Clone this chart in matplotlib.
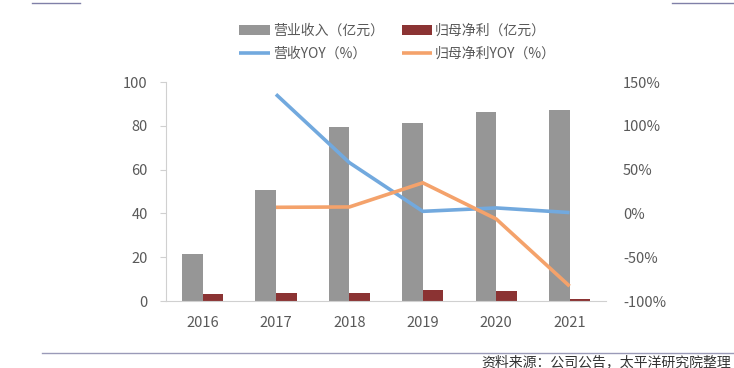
import matplotlib
matplotlib.use("Agg")
import matplotlib.pyplot as plt
from matplotlib.lines import Line2D
import numpy as np

plt.rcParams['font.family'] = ['Noto Sans CJK SC', 'DejaVu Sans']

years = ["2016", "2017", "2018", "2019", "2020", "2021"]
revenue = [21.5, 50.7, 79.3, 81.4, 86.4, 87.2]
net_profit = [3.2, 3.5, 3.5, 4.9, 4.4, 0.7]
rev_yoy_years = ["2017", "2018", "2019", "2020", "2021"]
rev_yoy = [136, 58, 2.4, 6.3, 1]
np_yoy = [7, 7.4, 35, -6.3, -83]

fig = plt.figure(figsize=(7.34, 3.68), dpi=100)
ax = fig.add_axes([0.226, 0.182, 0.6, 0.595])

x = np.arange(len(years))
w = 0.28
ax.bar(x - w / 2, revenue, w, color="#969696", label="营业收入（亿元）")
ax.bar(x + w / 2, net_profit, w, color="#8B3333", label="归母净利（亿元）")
ax.set_ylim(0, 100)
ax.set_xlim(-0.5, len(years) - 0.5)
ax.set_xticks(x)
ax.set_xticklabels(years)
ax.set_yticks(range(0, 101, 20))

ax2 = ax.twinx()
xl = [years.index(y) for y in rev_yoy_years]
ax2.plot(xl, rev_yoy, color="#72A9DE", lw=2.6, solid_capstyle="butt", label="营收YOY（%）")
ax2.plot(xl, np_yoy, color="#F4A26B", lw=2.6, solid_capstyle="butt", label="归母净利YOY（%）")
ax2.set_ylim(-100, 150)
ax2.set_yticks(range(-100, 151, 50))
ax2.set_yticklabels([f"{v}%" for v in range(-100, 151, 50)])

for a in (ax, ax2):
    for s in a.spines.values():
        s.set_visible(False)
    a.tick_params(colors="#595959", labelsize=10.5, length=0, pad=8)
ax.spines["left"].set_visible(True)
ax.spines["left"].set_color("#d0d0d0")
ax.spines["bottom"].set_visible(True)
ax.spines["bottom"].set_color("#d0d0d0")
ax.tick_params(axis="y", length=4, color="#d0d0d0", pad=9)
ax.tick_params(axis="x", pad=11)
ax2.tick_params(axis="y", pad=12)

h1, l1 = ax.get_legend_handles_labels()
h2, l2 = ax2.get_legend_handles_labels()
handles = [h1[0], h2[0], h1[1], h2[1]]
labels = [l1[0], l2[0], l1[1], l2[1]]
fig.legend(handles, labels, ncol=2, loc="center", bbox_to_anchor=(0.542, 0.885),
           frameon=False, fontsize=10, labelcolor="#595959", handlelength=2.2,
           handletextpad=0.2, columnspacing=1.3, labelspacing=0.6)

# page decorations
fig.add_artist(Line2D([32 / 734, 80 / 734], [0.992, 0.992], color="#8080A8", lw=1))
fig.add_artist(Line2D([672 / 734, 1.0], [0.992, 0.992], color="#8080A8", lw=1))
fig.add_artist(Line2D([42 / 734, 1.0], [1 - 353 / 368, 1 - 353 / 368], color="#9A9AB8", lw=1))
fig.text(731 / 734, 1 - 362 / 368, "资料来源：公司公告，太平洋研究院整理", fontsize=10,
         color="#333333", va="center", ha="right")

fig.savefig("out.png", dpi=100)
